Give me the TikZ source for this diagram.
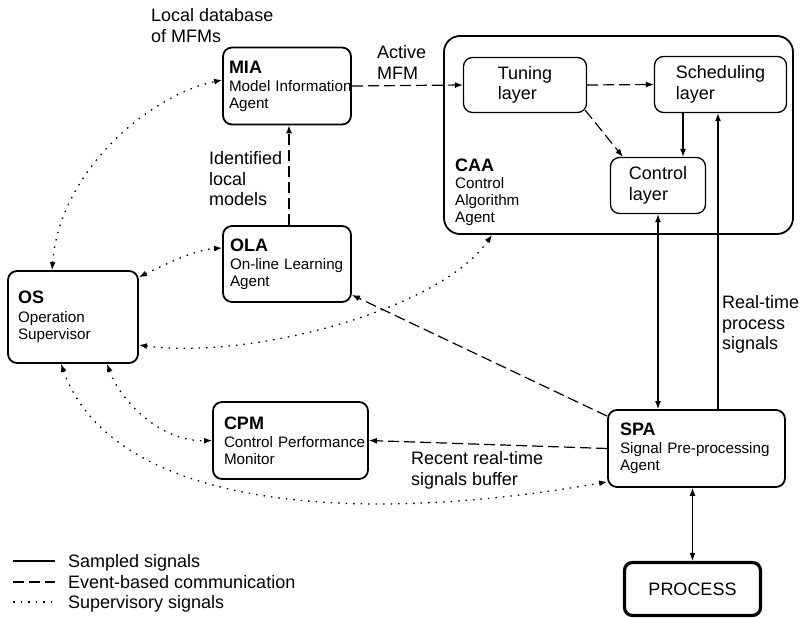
\documentclass[tikz,border=0pt]{standalone}
\usepackage{fontspec}
\setmainfont{Liberation Sans}
\usetikzlibrary{arrows.meta}
\newcommand\flab{\fontsize{18}{20.5}\selectfont}
\newcommand\fdsc{\fontsize{15.2}{17}\selectfont}
\newcommand\fttl{\bfseries\fontsize{18}{20.5}\selectfont}
\begin{document}
\begin{tikzpicture}[x=1pt,y=-1pt,
  agent/.style={draw, line width=1.8pt, rounded corners=9pt, align=left, inner ysep=0pt, font=\fdsc},
  layerbox/.style={draw, line width=1.3pt, rounded corners=9pt, align=left, inner sep=0pt, font=\flab},
  lab/.style={align=left, inner sep=0pt, font=\flab, anchor=north west},
  sampled/.style={line width=1.2pt},
  event/.style={line width=1.2pt, dash pattern=on 11pt off 5pt},
  superv/.style={line width=1.3pt, dash pattern=on 1.5pt off 6pt},
  oneway/.style={-{Latex[length=8pt,width=6pt]}},
  twoway/.style={{Latex[length=8pt,width=6pt]}-{Latex[length=8pt,width=6pt]}}
]
\useasboundingbox (0,0) rectangle (803,618);

% CAA container
\node[draw, line width=1.8pt, rounded corners=16pt, minimum width=349pt, minimum height=198pt, inner sep=0pt] (caa) at (618.5,135) {};
\node[align=left, inner sep=0pt, anchor=north west, font=\fdsc] (caatext) at (455,158.5) {{\fttl CAA}\\Control\\Algorithm\\Agent};

\node[layerbox, minimum width=123pt, minimum height=55pt] (tuning) at (525,85) {Tuning\\layer};
\node[layerbox, minimum width=132pt, minimum height=56pt] (sched) at (720.5,84.5) {Scheduling\\layer};
\node[layerbox, minimum width=95pt, minimum height=56pt] (ctrl) at (658,185.5) {Control\\layer};

% agents
\node[agent, minimum height=77pt, text width=116pt, inner xsep=6pt] (mia) at (287,86) {{\fttl MIA}\\[1pt]\mbox{Model Information}\\Agent};
\node[agent, minimum height=76pt, text width=114pt, inner xsep=7pt] (ola) at (287,264) {{\fttl OLA}\\[1pt]\mbox{On-line Learning}\\Agent};
\node[agent, minimum height=92pt, text width=110pt, inner xsep=10pt] (os) at (73,317) {{\fttl OS}\\[2pt]Operation\\Supervisor};
\node[agent, minimum height=77pt, text width=133pt, inner xsep=11pt] (cpm) at (290.5,440.5) {{\fttl CPM}\\[1pt]\mbox{Control Performance}\\Monitor};
\node[agent, minimum height=77pt, text width=153pt, inner xsep=12pt] (spa) at (696.5,448.5) {{\fttl SPA}\\[1pt]\mbox{Signal Pre-processing}\\Agent};
\node[draw, line width=3.2pt, rounded corners=8pt, minimum width=136pt, minimum height=53pt, inner sep=0pt, font=\flab] (process) at (692.5,589) {PROCESS};

% labels
\node[lab] (ldb) at (151,8.5) {Local database\\of MFMs};
\node[lab] (amfm) at (377,45.5) {Active\\MFM};
\node[lab] (ilm) at (209,151.5) {Identified\\local\\models};
\node[lab] (rtp) at (722,295.5) {Real-time\\process\\signals};
\node[lab] (rrt) at (411,451.5) {Recent real-time\\signals buffer};

% event-based connectors
\draw[event, oneway] (mia.east) -- (tuning.west);
\draw[event, oneway] (tuning.east) -- (sched.west);
\draw[event, oneway] ([xshift=-2pt,yshift=3pt]tuning.south east) -- ([xshift=13pt]ctrl.north west);
\draw[event, oneway] ([xshift=2pt]ola.north) -- ([xshift=2pt]mia.south);
\draw[event, oneway] ([yshift=-7pt]spa.north west) -- ([yshift=8pt]ola.south east);
\draw[event, oneway] (spa.west) -- (cpm.east);

% sampled connectors
\draw[sampled, oneway] ([xshift=-37.5pt]sched.south) -- ([xshift=-37.5pt]sched.south |- ctrl.north);
\draw[sampled, twoway] (ctrl.south) -- (ctrl.south |- spa.north);
\draw[sampled, oneway] ([xshift=-2.5pt]sched.south |- spa.north) -- ([xshift=-2.5pt]sched.south);
\draw[sampled, twoway] (process.north) -- (process.north |- spa.south);

% supervisory connectors
\draw[superv, twoway] ([xshift=-21pt]os.north) .. controls (60,170) and (150,95) .. ([yshift=6pt]mia.west);
\draw[superv, twoway] ([yshift=-7pt]os.north east) .. controls (170,262) and (195,250) .. ([yshift=16pt]ola.west);
\draw[superv, twoway] ([yshift=-28pt]os.east) .. controls (250,360) and (440,310) .. ([xshift=-126.5pt]caa.south);
\draw[superv, twoway] ([xshift=34pt]os.south) .. controls (120,400) and (160,442) .. (cpm.west);
\draw[superv, twoway] ([xshift=-12pt]os.south) .. controls (110,500) and (330,530) .. ([yshift=6pt]spa.south west);

% legend
\draw[sampled] (13,561) -- (55,561);
\node[anchor=base west, inner sep=0pt, font=\flab] (lg1) at (68,567.5) {Sampled signals};
\draw[event] (13,582) -- (55,582);
\node[anchor=base west, inner sep=0pt, font=\flab] (lg2) at (68,588.5) {Event-based communication};
\draw[superv] (13,602) -- (55,602);
\node[anchor=base west, inner sep=0pt, font=\flab] (lg3) at (68,608.5) {Supervisory signals};
\end{tikzpicture}
\end{document}
